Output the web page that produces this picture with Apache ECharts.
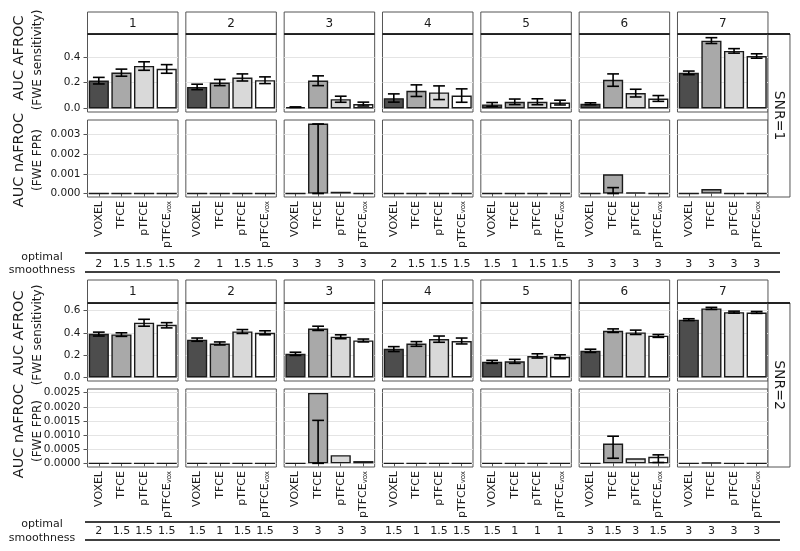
<!DOCTYPE html>
<html><head><meta charset="utf-8">
<script src="https://cdn.jsdelivr.net/npm/echarts@6/dist/echarts.min.js"></script>
<style>html,body{margin:0;padding:0;background:#fff}#c{width:800px;height:551px}</style>
</head><body><div id="c"></div>
<script>
// ---------------- DATA ----------------
const panels = ['1','2','3','4','5','6','7'];
const methods = ['VOXEL','TFCE','pTFCE','pTFCEvox'];

// SNR = 1 : AUC AFROC (FWE sensitivity)
const afroc1 = [
  [0.216,0.278,0.330,0.307],
  [0.167,0.201,0.240,0.219],
  [0.010,0.216,0.072,0.034],
  [0.080,0.137,0.124,0.100],
  [0.031,0.052,0.052,0.046],
  [0.036,0.222,0.119,0.077],
  [0.276,0.526,0.446,0.407]];
const afroc1Lo = [
  [0.190,0.250,0.296,0.273],
  [0.146,0.177,0.213,0.193],
  [0.008,0.177,0.048,0.019],
  [0.049,0.093,0.069,0.048],
  [0.016,0.030,0.029,0.027],
  [0.029,0.172,0.089,0.055],
  [0.262,0.504,0.429,0.390]];
const afroc1Hi = [
  [0.241,0.305,0.362,0.340],
  [0.188,0.225,0.268,0.245],
  [0.012,0.253,0.095,0.049],
  [0.113,0.183,0.175,0.152],
  [0.046,0.073,0.075,0.064],
  [0.044,0.268,0.149,0.100],
  [0.290,0.549,0.464,0.424]];
// SNR = 1 : AUC nAFROC (FWE FPR)
const nafroc1 = [
  [0,0,0,0],
  [0,0,0,0],
  [0,0.00354,0.00009,0.00001],
  [0,0,0,0],
  [0,0,0,0],
  [0,0.00097,0.00005,0.00001],
  [0,0.00023,0.00001,0]];
const nafroc1Lo = [
  [null,null,null,null],[null,null,null,null],[null,0,null,null],
  [null,null,null,null],[null,null,null,null],[null,0,null,null],[null,null,null,null]];
const nafroc1Hi = [
  [null,null,null,null],[null,null,null,null],[null,0.00352,null,null],
  [null,null,null,null],[null,null,null,null],[null,0.00030,null,null],[null,null,null,null]];

// SNR = 2 : AUC AFROC
const afroc2 = [
  [0.391,0.385,0.491,0.471],
  [0.338,0.303,0.412,0.400],
  [0.212,0.438,0.365,0.332],
  [0.256,0.303,0.344,0.326],
  [0.141,0.144,0.191,0.185],
  [0.238,0.418,0.403,0.374],
  [0.518,0.618,0.585,0.582]];
const afroc2Lo = [
  [0.371,0.368,0.459,0.444],
  [0.324,0.291,0.394,0.382],
  [0.197,0.421,0.347,0.318],
  [0.232,0.279,0.315,0.300],
  [0.126,0.126,0.174,0.168],
  [0.224,0.403,0.385,0.359],
  [0.509,0.609,0.576,0.574]];
const afroc2Hi = [
  [0.406,0.400,0.521,0.491],
  [0.353,0.318,0.429,0.418],
  [0.226,0.459,0.382,0.344],
  [0.276,0.321,0.371,0.353],
  [0.153,0.162,0.212,0.203],
  [0.253,0.435,0.424,0.385],
  [0.526,0.628,0.594,0.591]];
// SNR = 2 : AUC nAFROC
const nafroc2 = [
  [0,0,0,0],
  [0,0,0,0],
  [0,0.00249,0.00029,0.00008],
  [0,0,0,0],
  [0,0,0,0],
  [0,0.00070,0.00018,0.00023],
  [0,0.00002,0,0]];
const nafroc2Lo = [
  [null,null,null,null],[null,null,null,null],[null,0,null,null],
  [null,null,null,null],[null,null,null,null],[null,0.00018,null,0.00003],[null,null,null,null]];
const nafroc2Hi = [
  [null,null,null,null],[null,null,null,null],[null,0.00152,null,null],
  [null,null,null,null],[null,null,null,null],[null,0.00096,null,0.00030],[null,null,null,null]];

// optimal smoothness
const smooth1 = [['2','1.5','1.5','1.5'],['2','1','1.5','1.5'],['3','3','3','3'],['2','1.5','1.5','1.5'],['1.5','1','1.5','1.5'],['3','3','3','3'],['3','3','3','3']];
const smooth2 = [['2','1.5','1.5','1.5'],['1.5','1','1.5','1.5'],['3','3','3','3'],['1.5','1','1.5','1.5'],['1.5','1','1','1'],['3','1.5','3','1.5'],['3','3','3','3']];

// tick labels
const afroc1Ticks = [0, 0.2, 0.4];
const nafroc1Ticks = [0, 0.001, 0.002, 0.003];
const afroc2Ticks = [0, 0.2, 0.4, 0.6];
const nafroc2Ticks = [0, 0.0005, 0.001, 0.0015, 0.002, 0.0025];
const snrLabels = ['SNR=1', 'SNR=2'];

// ---------------- CHART ----------------
const FONT = 'DejaVu Sans';
const TXT = '#1a1a1a';
const fills = ['#4d4d4d', '#a9a9a9', '#d9d9d9', '#ffffff'];
const colLeft = p => 87.5 + p * 98.33;
const W = 90.5;

const halves = [
  { a: afroc1, aLo: afroc1Lo, aHi: afroc1Hi, n: nafroc1, nLo: nafroc1Lo, nHi: nafroc1Hi, sm: smooth1,
    aTicks: afroc1Ticks, aMin: -0.0275, aMax: 0.5775, aDec: 1,
    nTicks: nafroc1Ticks, nMin: -0.000175, nMax: 0.00372, nDec: 3,
    L: { sTop: 12, aTop: 34, aBot: 112, nTop: 120, nBot: 197, l1: 253, l2: 272, smY: 257, opt: 257, smo: 270,
         tA: 58, tN: 160 } },
  { a: afroc2, aLo: afroc2Lo, aHi: afroc2Hi, n: nafroc2, nLo: nafroc2Lo, nHi: nafroc2Hi, sm: smooth2,
    aTicks: afroc2Ticks, aMin: -0.032, aMax: 0.667, aDec: 1,
    nTicks: nafroc2Ticks, nMin: -0.00013, nMax: 0.00263, nDec: 4,
    L: { sTop: 280, aTop: 303, aBot: 381, nTop: 389, nBot: 467, l1: 522, l2: 540, smY: 524, opt: 524, smo: 538,
         tA: 333, tN: 431 } }
];

const grids = [], xAxes = [], yAxes = [], series = [], graphic = [];

function errRender(params, api) {
  const x = api.value(0);
  const pLo = api.coord([x, api.value(1)]);
  const pHi = api.coord([x, api.value(2)]);
  const hw = api.size([1, 0])[0] * 0.26;
  const st = { stroke: '#000', lineWidth: 1.6 };
  return { type: 'group', children: [
    { type: 'line', shape: { x1: pLo[0], y1: pLo[1], x2: pHi[0], y2: pHi[1] }, style: st },
    { type: 'line', shape: { x1: pHi[0] - hw, y1: pHi[1], x2: pHi[0] + hw, y2: pHi[1] }, style: st },
    { type: 'line', shape: { x1: pLo[0] - hw, y1: pLo[1], x2: pLo[0] + hw, y2: pLo[1] }, style: st }
  ]};
}

function addPanel(left, top, height, vals, lo, hi, ticks, min, max, dec, showY, showX) {
  const g = grids.length;
  grids.push({ left: left, top: top, width: W, height: height, show: true,
    borderColor: '#555', borderWidth: 1, backgroundColor: 'transparent', containLabel: false, outerBoundsMode: 'none' });
  xAxes.push({ type: 'category', gridIndex: g, data: methods,
    axisLine: { show: false }, splitLine: { show: false },
    axisTick: { show: showX, length: 3, alignWithLabel: true, lineStyle: { color: '#555' } },
    axisLabel: { show: showX, interval: 0, rotate: 90, margin: 4, color: TXT, fontFamily: FONT, fontSize: 11,
      formatter: v => v === 'pTFCEvox' ? '{m|pTFCE}{s|vox}' : '{m|' + v + '}',
      rich: { m: { fontSize: 11, fontFamily: FONT, color: TXT },
              s: { fontSize: 7, fontFamily: FONT, color: TXT, verticalAlign: 'bottom', padding: [3, 0, 0, 0] } } } });
  yAxes.push({ type: 'value', gridIndex: g, min: min, max: max,
    axisLine: { show: false },
    axisTick: { show: showY, length: 4, customValues: ticks, lineStyle: { color: '#555' } },
    axisLabel: { show: showY, customValues: ticks, margin: 7, color: TXT, fontFamily: FONT, fontSize: 10.5,
      formatter: v => Number(v).toFixed(dec) },
    splitLine: { show: true, lineStyle: { color: '#e4e4e4', width: 1 } } });
  series.push({ type: 'bar', xAxisIndex: g, yAxisIndex: g, barWidth: '89%', silent: true,
    itemStyle: { borderColor: '#1a1a1a', borderWidth: 1.4 },
    data: vals.map((v, i) => ({ value: v, itemStyle: { color: fills[i] } })) });
  const ed = [];
  vals.forEach((v, i) => { if (lo[i] !== null && hi[i] !== null) ed.push([i, lo[i], hi[i]]); });
  if (ed.length) series.push({ type: 'custom', xAxisIndex: g, yAxisIndex: g, silent: true, z: 5,
    encode: { x: 0, y: [1, 2] }, renderItem: errRender, data: ed });
}

halves.forEach((H, h) => {
  const L = H.L;
  panels.forEach((name, p) => {
    const left = colLeft(p);
    addPanel(left, L.aTop, L.aBot - L.aTop, H.a[p], H.aLo[p], H.aHi[p], H.aTicks, H.aMin, H.aMax, H.aDec, p === 0, false);
    addPanel(left, L.nTop, L.nBot - L.nTop, H.n[p], H.nLo[p], H.nHi[p], H.nTicks, H.nMin, H.nMax, H.nDec, p === 0, true);
    // smoothness row (labels positioned by a category axis)
    const g = grids.length;
    grids.push({ left: left, top: L.smY, width: W, height: 1, show: false, containLabel: false, outerBoundsMode: 'none' });
    xAxes.push({ type: 'category', gridIndex: g, data: methods, axisLine: { show: false }, axisTick: { show: false },
      splitLine: { show: false },
      axisLabel: { interval: 0, margin: 1, color: TXT, fontFamily: FONT, fontSize: 11,
        formatter: (v, i) => H.sm[p][i] } });
    yAxes.push({ type: 'value', gridIndex: g, show: false, min: 0, max: 1 });
    // strip
    graphic.push({ type: 'rect', silent: true, shape: { x: left, y: L.sTop, width: W, height: L.aTop - L.sTop },
      style: { fill: '#fff', stroke: '#555', lineWidth: 1 } });
    graphic.push({ type: 'line', silent: true, shape: { x1: left, y1: L.aTop, x2: left + W, y2: L.aTop },
      style: { stroke: '#000', lineWidth: 1.6 } });
    graphic.push({ type: 'text', silent: true, x: left + W / 2, y: (L.sTop + L.aTop) / 2 + 0.5,
      style: { text: name, font: '12px "DejaVu Sans"', fill: TXT, textAlign: 'center', textVerticalAlign: 'middle' } });
  });
  // SNR strip on the right
  const sx = colLeft(6) + W;
  graphic.push({ type: 'rect', silent: true, shape: { x: sx, y: L.aTop, width: 22, height: L.nBot - L.aTop },
    style: { fill: '#fff', stroke: '#555', lineWidth: 1 } });
  graphic.push({ type: 'line', silent: true, shape: { x1: sx, y1: L.aTop, x2: sx + 22, y2: L.aTop },
    style: { stroke: '#000', lineWidth: 1.6 } });
  graphic.push({ type: 'text', silent: true, x: sx + 11, y: (L.aTop + L.nBot) / 2, rotation: -Math.PI / 2,
    style: { text: snrLabels[h], font: '14px "DejaVu Sans"', fill: TXT, textAlign: 'center', textVerticalAlign: 'middle' } });
  // y titles
  graphic.push({ type: 'text', silent: true, x: 19, y: L.tA, rotation: Math.PI / 2,
    style: { text: 'AUC AFROC', font: '14.5px "DejaVu Sans"', fill: TXT, textAlign: 'center', textVerticalAlign: 'middle' } });
  graphic.push({ type: 'text', silent: true, x: 38, y: L.tA + 2, rotation: Math.PI / 2,
    style: { text: '(FWE sensitivity)', font: '12px "DejaVu Sans"', fill: TXT, textAlign: 'center', textVerticalAlign: 'middle' } });
  graphic.push({ type: 'text', silent: true, x: 19, y: L.tN, rotation: Math.PI / 2,
    style: { text: 'AUC nAFROC', font: '14.5px "DejaVu Sans"', fill: TXT, textAlign: 'center', textVerticalAlign: 'middle' } });
  graphic.push({ type: 'text', silent: true, x: 38, y: L.tN, rotation: Math.PI / 2,
    style: { text: '(FWE FPR)', font: '12px "DejaVu Sans"', fill: TXT, textAlign: 'center', textVerticalAlign: 'middle' } });
  // smoothness lines and label
  graphic.push({ type: 'line', silent: true, shape: { x1: 85, y1: L.l1, x2: 780, y2: L.l1 }, style: { stroke: '#000', lineWidth: 1.5 } });
  graphic.push({ type: 'line', silent: true, shape: { x1: 85, y1: L.l2, x2: 780, y2: L.l2 }, style: { stroke: '#000', lineWidth: 1.5 } });
  graphic.push({ type: 'text', silent: true, x: 42, y: L.opt, style: { text: 'optimal', font: '11px "DejaVu Sans"', fill: TXT, textAlign: 'center', textVerticalAlign: 'middle' } });
  graphic.push({ type: 'text', silent: true, x: 42, y: L.smo, style: { text: 'smoothness', font: '11px "DejaVu Sans"', fill: TXT, textAlign: 'center', textVerticalAlign: 'middle' } });
});

const chart = echarts.init(document.getElementById('c'), null, { renderer: 'canvas' });
chart.setOption({
  animation: false,
  backgroundColor: '#ffffff',
  textStyle: { fontFamily: FONT },
  grid: grids, xAxis: xAxes, yAxis: yAxes, series: series, graphic: graphic
});
</script></body></html>
